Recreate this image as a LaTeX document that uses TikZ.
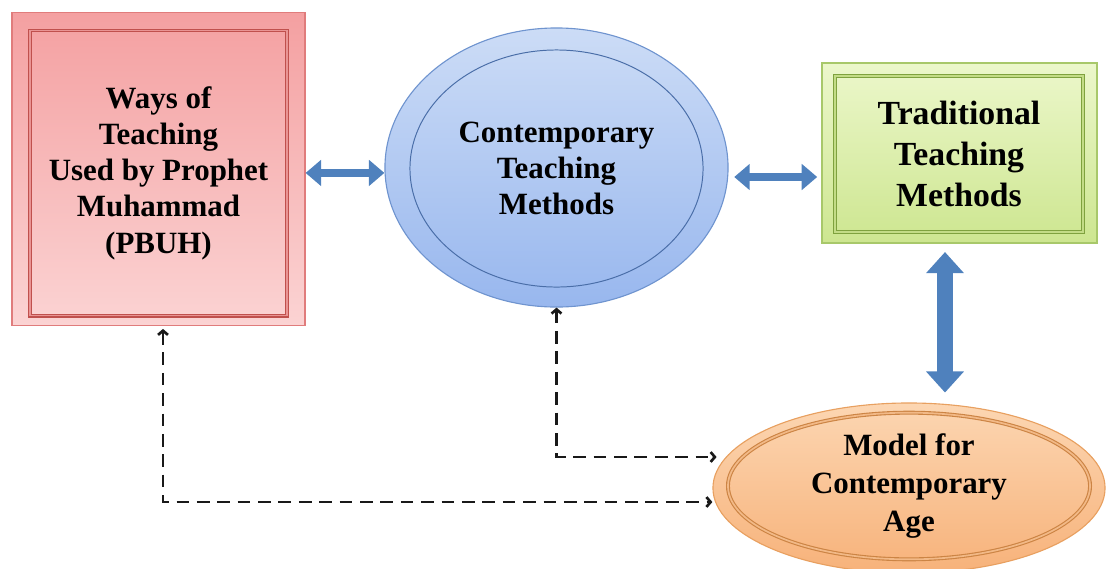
\documentclass[tikz,border=0pt]{standalone}
\usepackage{fontspec}
\setmainfont{Liberation Serif}
\usetikzlibrary{shapes.geometric,arrows.meta}

\definecolor{RedTop}{HTML}{F4A0A1}
\definecolor{RedBot}{HTML}{FBD3D3}
\definecolor{RedEdge}{HTML}{E07C7C}
\definecolor{RedLine}{HTML}{C0504D}
\definecolor{RedMid}{HTML}{E99494}
\definecolor{BlueTop}{HTML}{CCDCF6}
\definecolor{BlueBot}{HTML}{98B7EE}
\definecolor{BlueEdge}{HTML}{6F94CF}
\definecolor{BlueLine}{HTML}{4A6EA8}
\definecolor{GreenTop}{HTML}{ECF7CB}
\definecolor{GreenBot}{HTML}{CDE690}
\definecolor{GreenEdge}{HTML}{A8C86A}
\definecolor{GreenLine}{HTML}{7FA23E}
\definecolor{GreenMid}{HTML}{C3DC86}
\definecolor{OrangeTop}{HTML}{FCD6B2}
\definecolor{OrangeBot}{HTML}{F7B27A}
\definecolor{OrangeEdge}{HTML}{E8A060}
\definecolor{OrangeLine}{HTML}{CC8444}
\definecolor{OrangeMid}{HTML}{F2B987}
\definecolor{ArrowBlue}{HTML}{4F81BD}

\begin{document}
\begin{tikzpicture}[x=0.025cm,y=-0.025cm,
  lbl/.style={font=\fontsize{22}{25.8}\selectfont\bfseries, align=center, text=black},
  outerbox/.style={rectangle, inner sep=0pt, line width=0.8pt},
  innerline/.style={line width=0.8pt, double distance=1.2pt, inner sep=0pt},
  blockarrow/.style={draw=ArrowBlue, line width=6pt,
    {Triangle[width=18pt,length=11pt]}-{Triangle[width=18pt,length=11pt]}},
  bigblockarrow/.style={draw=ArrowBlue, line width=11pt,
    {Triangle[width=26pt,length=15pt]}-{Triangle[width=26pt,length=15pt]}},
  linkarrow/.style={draw=black!90, line width=1.9pt, dash pattern=on 9pt off 5.5pt,
    {Straight Barb[length=3pt,width=7pt]}-{Straight Barb[length=3pt,width=7pt]}}
]
\useasboundingbox (0,0) rectangle (1107,568);

% Ways of teaching box
\node[outerbox, draw=RedEdge, top color=RedTop, bottom color=RedBot,
      minimum width=7.325cm, minimum height=7.825cm] (red) at (158.5,169) {};
\node[innerline, rectangle, draw=RedLine, double=RedMid,
      minimum width=6.425cm, minimum height=7.125cm] (redin) at (158.5,169.5)
      [lbl, yshift=-2.5pt] {Ways of\\Teaching\\Used by Prophet\\Muhammad\\(PBUH)};

% Contemporary teaching methods ellipse
\node[outerbox, ellipse, draw=BlueEdge, top color=BlueTop, bottom color=BlueBot,
      minimum width=8.575cm, minimum height=6.975cm] (blue) at (556.5,167.5) {};
\node[ellipse, draw=BlueLine, line width=0.7pt, inner sep=0pt,
      minimum width=7.325cm, minimum height=5.925cm] (bluein) at (556.5,168.5)
      [lbl] {Contemporary\\Teaching\\Methods};

% Traditional teaching methods box
\node[outerbox, draw=GreenEdge, top color=GreenTop, bottom color=GreenBot,
      minimum width=6.875cm, minimum height=4.5cm] (green) at (959.5,153) {};
\node[innerline, rectangle, draw=GreenLine, double=GreenMid,
      minimum width=6.2cm, minimum height=3.9cm] (greenin) at (959,154)
      [lbl, font=\fontsize{24}{29}\selectfont\bfseries] {Traditional\\Teaching\\Methods};

% Model for contemporary age ellipse
\node[outerbox, ellipse, draw=OrangeEdge, top color=OrangeTop, bottom color=OrangeBot,
      minimum width=9.8cm, minimum height=4.25cm] (orange) at (909,488) {};
\node[innerline, ellipse, draw=OrangeLine, double=OrangeMid,
      minimum width=9.05cm, minimum height=3.3cm] (orangein) at (909,486)
      [lbl, font=\fontsize{22}{26.7}\selectfont\bfseries] {Model for\\Contemporary\\Age};

% Two-way block arrows
\draw[blockarrow] ([yshift=-2.8pt]red.east) -- ([yshift=-2.8pt]red.east -| blue.west);
\draw[blockarrow, shorten <=4pt, shorten >=3pt] (blue.east |- 0,177) -- (green.west |- 0,177);
\draw[bigblockarrow, shorten <=6pt, shorten >=7pt] (green.south -| 945,0) -- (orange.north -| 945,0);

% Dashed feedback links
\draw[linkarrow, shorten >=-3pt] (blue.south) -- (blue.south |- 0,457) -- (orange.west |- 0,457);
\draw[linkarrow, shorten <=2pt] (red.south -| 163,0) -- (163,502) -- (orange.west |- 0,502);
\end{tikzpicture}
\end{document}
